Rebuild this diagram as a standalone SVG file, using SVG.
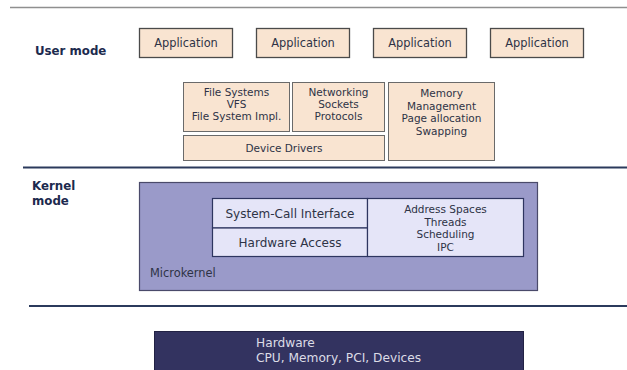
<svg xmlns="http://www.w3.org/2000/svg" width="627" height="370" viewBox="0 0 627 370">
  <style>
    text { font-family: "DejaVu Sans", Verdana, sans-serif; fill: #2e3346; text-anchor: middle; }
    .mode { font-weight: bold; font-size: 11.8px; fill: #1c2a4e; text-anchor: start; }
    .app { fill: #f9e4d1; stroke: #4a4a4a; stroke-width: 1.3; }
    .svc { fill: #f9e4d1; stroke: #6a6a6a; stroke-width: 1; }
    .t11 { font-size: 11.4px; }
    .t10 { font-size: 10.5px; }
    .t12 { font-size: 12px; }
    .mk { fill: #9a9ac9; stroke: #4a4a6a; stroke-width: 1.2; }
    .mki { fill: #e5e5f8; stroke: #2e3560; stroke-width: 1.2; }
    .hw { fill: #333360; stroke: #222244; stroke-width: 1; }
    .hwt { fill: #dcdce6; font-size: 12.2px; text-anchor: start; }
    .sep { stroke: #2b3a5c; stroke-width: 2; }
  </style>

  <!-- separators -->
  <g id="separators">
    <line x1="10" y1="7.5" x2="627" y2="7.5" stroke="#8f8f8f" stroke-width="1.3"/>
    <line class="sep" x1="23" y1="167.5" x2="627" y2="167.5"/>
    <line class="sep" x1="29" y1="306" x2="627" y2="306"/>
  </g>

  <!-- mode labels -->
  <text class="mode" x="35" y="55">User mode</text>
  <text class="mode" x="32" y="190">Kernel</text>
  <text class="mode" x="32" y="205">mode</text>

  <!-- user applications -->
  <g id="app1"><rect class="app" x="139.5" y="28.5" width="93" height="29"/><text class="t11" x="186" y="47">Application</text></g>
  <g id="app2"><rect class="app" x="256.5" y="28.5" width="93" height="29"/><text class="t11" x="303" y="47">Application</text></g>
  <g id="app3"><rect class="app" x="373.5" y="28.5" width="93" height="29"/><text class="t11" x="420" y="47">Application</text></g>
  <g id="app4"><rect class="app" x="490.5" y="28.5" width="93" height="29"/><text class="t11" x="537" y="47">Application</text></g>

  <!-- user-level servers -->
  <g id="filesystems">
    <rect class="svc" x="183.5" y="82.5" width="106" height="49"/>
    <text class="t10" x="236.5" y="96">File Systems</text>
    <text class="t10" x="236.5" y="108">VFS</text>
    <text class="t10" x="236.5" y="120">File System Impl.</text>
  </g>
  <g id="networking">
    <rect class="svc" x="292.5" y="82.5" width="92" height="49"/>
    <text class="t10" x="338.5" y="96">Networking</text>
    <text class="t10" x="338.5" y="108">Sockets</text>
    <text class="t10" x="338.5" y="120">Protocols</text>
  </g>
  <g id="drivers">
    <rect class="svc" x="183.5" y="135.5" width="201" height="25"/>
    <text class="t10" x="284" y="152">Device Drivers</text>
  </g>
  <g id="memory">
    <rect class="svc" x="388.5" y="82.5" width="106" height="78"/>
    <text class="t10" x="441.5" y="97">Memory</text>
    <text class="t10" x="441.5" y="109.5">Management</text>
    <text class="t10" x="441.5" y="122">Page allocation</text>
    <text class="t10" x="441.5" y="134.5">Swapping</text>
  </g>

  <!-- microkernel -->
  <g id="microkernel">
    <rect class="mk" x="139.5" y="182.5" width="398" height="108"/>
    <text class="t11" x="150" y="277" style="text-anchor:start">Microkernel</text>
  </g>
  <g id="syscall">
    <rect class="mki" x="212.5" y="198.5" width="155" height="29.5"/>
    <text class="t12" x="290" y="218">System-Call Interface</text>
  </g>
  <g id="hwaccess">
    <rect class="mki" x="212.5" y="228" width="155" height="28.5"/>
    <text class="t12" x="290" y="247">Hardware Access</text>
  </g>
  <g id="core">
    <rect class="mki" x="367.5" y="198.5" width="156" height="58"/>
    <text class="t10" x="445.5" y="213">Address Spaces</text>
    <text class="t10" x="445.5" y="225.5">Threads</text>
    <text class="t10" x="445.5" y="238">Scheduling</text>
    <text class="t10" x="445.5" y="250.5">IPC</text>
  </g>

  <!-- hardware -->
  <g id="hardware">
    <rect class="hw" x="154.5" y="331.5" width="369" height="45"/>
    <text class="hwt" x="256" y="347">Hardware</text>
    <text class="hwt" x="256" y="362">CPU, Memory, PCI, Devices</text>
  </g>
</svg>
